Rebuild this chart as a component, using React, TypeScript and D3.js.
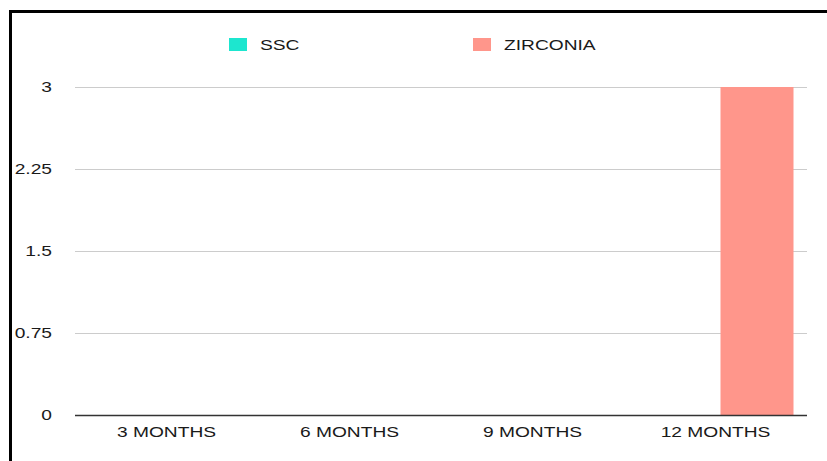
import React, { useEffect, useRef } from 'react'
import * as d3 from 'd3'

const categories = ['3 MONTHS', '6 MONTHS', '9 MONTHS', '12 MONTHS']
const seriesNames = ['SSC', 'ZIRCONIA']
const sscValues = [0, 0, 0, 0]
const zirconiaValues = [0, 0, 0, 3]
const yTicks = [0, 0.75, 1.5, 2.25, 3]
const colors = ['#1de6cf', '#ff968b']

export default function App() {
  const svgRef = useRef<SVGSVGElement>(null)
  const width = 827
  const height = 461
  const margin = { top: 87, left: 75 }
  const stretch = 1.37 // text in the picture is drawn wide

  useEffect(() => {
    const svg = d3.select(svgRef.current)
    svg.selectAll('*').remove()

    const innerWidth = 807 - margin.left

    // frame
    svg.append('rect')
      .attr('x', 10.5).attr('y', 11.5)
      .attr('width', 830).attr('height', 470)
      .attr('fill', 'white')
      .attr('stroke', 'black')
      .attr('stroke-width', 3)

    const g = svg.append('g').attr('transform', `translate(${margin.left},${margin.top})`)

    const x0 = d3.scaleBand().domain(categories).range([0, innerWidth])
    const x1 = d3.scaleBand().domain(seriesNames)
      .range([13.5, x0.bandwidth() - 13.5])
      .paddingInner(10 / 83)
    const y = d3.scaleLinear().domain([0, 3]).range([328, 0])

    const label = (sel: any, x: number, yy: number, txt: string, anchor: string) =>
      sel.append('text')
        .attr('transform', `translate(${x},${yy}) scale(${stretch},1)`)
        .attr('dy', '0.35em')
        .attr('text-anchor', anchor)
        .attr('font-family', 'Liberation Sans, Arial, sans-serif')
        .attr('font-size', 14)
        .attr('fill', '#1a1a1a')
        .text(txt)

    // grid
    g.selectAll('line.grid')
      .data(yTicks.filter(t => t !== 0))
      .enter().append('line')
      .attr('x1', 0).attr('x2', innerWidth)
      .attr('y1', d => Math.round(y(d)) + 0.5).attr('y2', d => Math.round(y(d)) + 0.5)
      .attr('stroke', '#cccccc')
      .attr('stroke-width', 1)

    yTicks.forEach(t => label(g, 52 - margin.left, y(t), String(t), 'end'))

    // bars
    const data = categories.map((c, i) => ({ c, vals: [sscValues[i], zirconiaValues[i]] }))
    const groups = g.selectAll('g.grp').data(data).enter().append('g')
      .attr('transform', d => `translate(${x0(d.c)},0)`)
    groups.selectAll('rect')
      .data(d => d.vals.map((v, k) => ({ k, v })))
      .enter().append('rect')
      .attr('x', d => x1(seriesNames[d.k])!)
      .attr('width', x1.bandwidth())
      .attr('y', d => y(d.v))
      .attr('height', d => y(0) - y(d.v))
      .attr('fill', d => colors[d.k])

    // baseline
    g.append('line')
      .attr('x1', 0).attr('x2', innerWidth)
      .attr('y1', y(0) + 0.5).attr('y2', y(0) + 0.5)
      .attr('stroke', '#333')
      .attr('stroke-width', 1.5)

    // x labels
    categories.forEach(c => label(g, x0(c)! + x0.bandwidth() / 2, y(0) + 17, c, 'middle'))

    // legend
    const legendX = [229, 473]
    seriesNames.forEach((name, i) => {
      svg.append('rect')
        .attr('x', legendX[i]).attr('y', 38)
        .attr('width', 18).attr('height', 13)
        .attr('fill', colors[i])
      label(svg, legendX[i] + 31, 45, name, 'start')
    })
  }, [])

  return (
    <svg ref={svgRef} width={width} height={height}
      style={{ position: 'fixed', left: 0, top: 0, background: 'white' }} />
  )
}
